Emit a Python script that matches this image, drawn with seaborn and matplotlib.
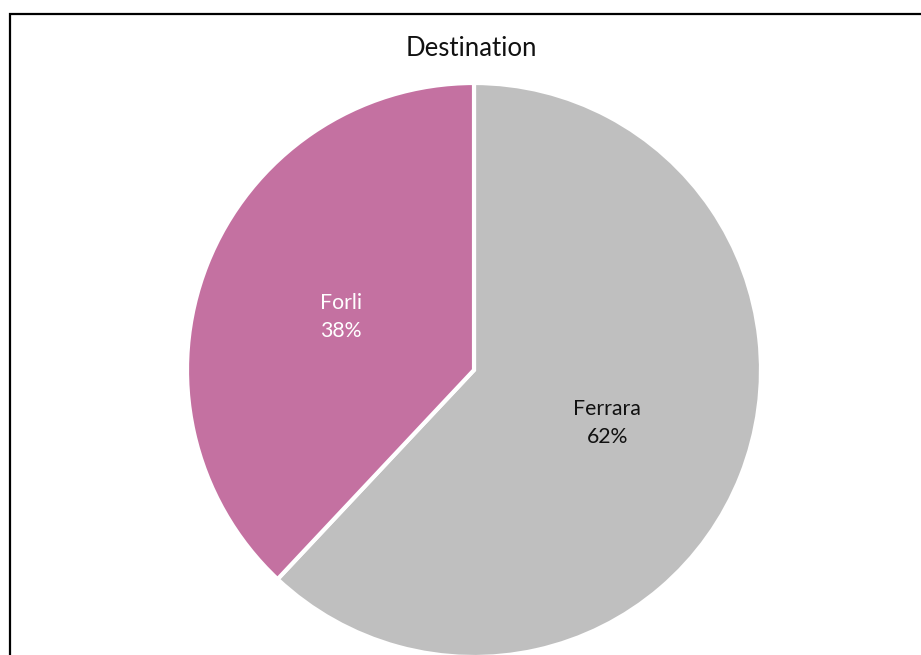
import matplotlib
matplotlib.use("Agg")
import matplotlib.pyplot as plt
import seaborn as sns
from matplotlib.patches import Rectangle

# Share of trips by destination
categories = ["Ferrara", "Forli"]
shares = [62, 38]
slice_colors = ["#BFBFBF", "#C471A1"]
label_colors = ["#111111", "#FFFFFF"]

sns.set_theme(style="white")
plt.rcParams["font.family"] = ["Lato", "DejaVu Sans"]

W, H = 921, 655
fig = plt.figure(figsize=(W / 100, H / 100), dpi=100)
fig.patch.set_facecolor("white")

# Pie axes: centre (474, 370) px, radius 287 px
cx, cy, r = 474, 370, 287
ax = fig.add_axes([(cx - r) / W, (H - cy - r) / H, 2 * r / W, 2 * r / H])
wedges, texts = ax.pie(
    shares,
    labels=[f"{c}\n{s}%" for c, s in zip(categories, shares)],
    colors=slice_colors,
    startangle=90,
    counterclock=False,
    labeldistance=0.5,
    radius=1,
    wedgeprops=dict(edgecolor="white", linewidth=3.0),
    textprops=dict(fontsize=15.3, ha="center", va="center", linespacing=1.5),
)
for t, c in zip(texts, label_colors):
    t.set_color(c)
ax.set_xlim(-1, 1)
ax.set_ylim(-1, 1)
ax.set_aspect("equal")
ax.axis("off")

fig.text(471 / W, 1 - 49 / H, "Destination", ha="center", va="center",
         fontsize=18.5, color="#111111")

# Chart frame (left and top edges visible)
frame = Rectangle((9.5 / W, -0.1), 1.2, 1 - 13.5 / H + 0.1,
                  transform=fig.transFigure, fill=False,
                  edgecolor="#000000", linewidth=1.6)
fig.patches.append(frame)

fig.savefig("out.png", dpi=100)
